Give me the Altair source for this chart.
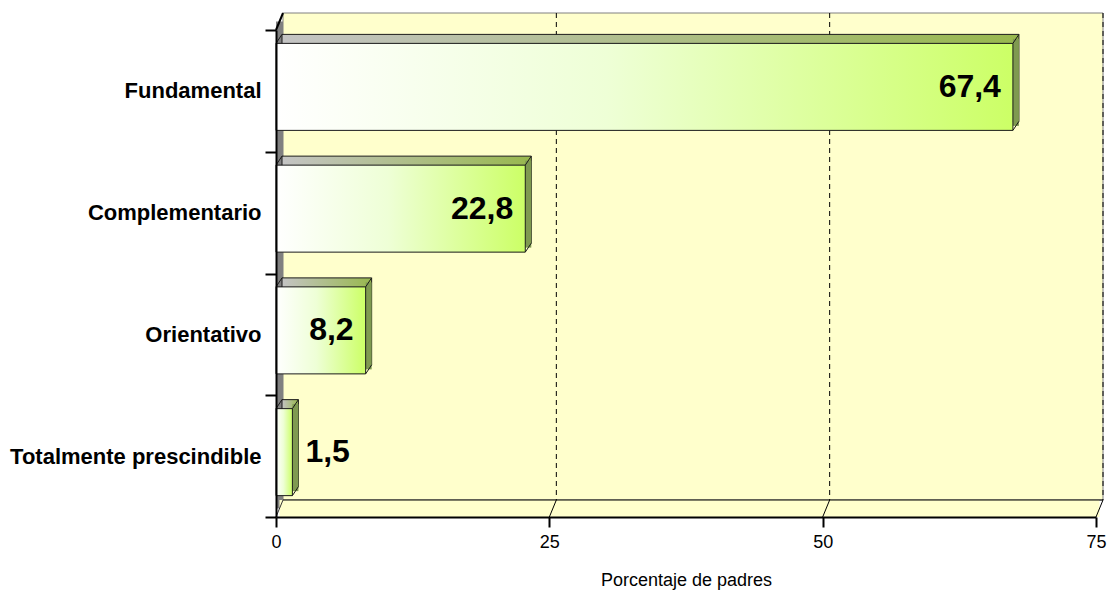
import altair as alt
import pandas as pd

# ---- data ----
categories = ["Fundamental", "Complementario", "Orientativo", "Totalmente prescindible"]
values = [67.4, 22.8, 8.2, 1.5]
x_ticks = [0, 25, 50, 75]
grid_vals = [25, 50, 75]
x_title = "Porcentaje de padres"

df = pd.DataFrame({"c": categories, "v": values})
gdf = pd.DataFrame({"v": grid_vals})
one = pd.DataFrame({"k": [0]})

# ---- layout / style ----
W, H = 820, 487
DX, DY = 7, 17          # wall depth
BH, BOFF = 87, -4       # bar front height and offset from band centre
BDX, BDY = 6, 9         # bar depth
FONT = "Liberation Sans"
WALL = "#FFFFCC"
EDGE = "#1a1a1a"

xscale = alt.Scale(domain=[0, 75], nice=False, zero=True)
xaxis = alt.Axis(values=x_ticks, title=x_title, grid=False, labelFont=FONT, labelFontSize=18,
                 labelColor="black", labelFlush=False, titleFont=FONT, titleFontSize=18,
                 titleFontWeight="normal", titleColor="black", tickSize=10, tickWidth=2,
                 tickColor="black", domainColor="black", domainWidth=2, labelPadding=6,
                 titlePadding=20, zindex=1)
yaxis = alt.Axis(title=None, tickBand="extent", labelFont=FONT, labelFontSize=22,
                 labelFontWeight="bold", labelColor="black", tickSize=11, tickWidth=2,
                 tickColor="black", domainColor="black", domainWidth=2, labelPadding=4,
                 labelLimit=400, zindex=1)
yscale = alt.Scale(domain=categories, paddingInner=0, paddingOuter=0)

X = lambda: alt.X("v:Q", scale=xscale, axis=xaxis)
Y = lambda: alt.Y("c:N", scale=yscale, axis=yaxis, sort=categories, bandPosition=0.5)

front_grad = alt.Gradient(gradient="linear", x1=0, x2=1, y1=0, y2=0, stops=[
    alt.GradientStop(offset=0, color="#FFFFFF"),
    alt.GradientStop(offset=0.45, color="#EEFFD6"),
    alt.GradientStop(offset=1, color="#CCFF66")])
top_grad = alt.Gradient(gradient="linear", x1=0, x2=1, y1=0, y2=0, stops=[
    alt.GradientStop(offset=0, color="#C4C4C4"),
    alt.GradientStop(offset=1, color="#98B84E")])
SIDE = "#7F9A50"

base1 = alt.Chart(one)

# back wall
back_wall = base1.mark_rect(fill=WALL, stroke="#808080", strokeWidth=1,
                            xOffset=DX, x2Offset=DX).encode(
    x=alt.datum(0, scale=xscale), x2=alt.datum(75), y=alt.value(-DY), y2=alt.value(H - DY))

grid_back = alt.Chart(gdf).mark_rule(color="black", strokeWidth=1, strokeDash=[5, 4],
                                     xOffset=DX).encode(
    x=X(), y=alt.value(-DY), y2=alt.value(H - DY))

left_wall = base1.mark_rect(fill="#808080", x2Offset=DX).encode(
    x=alt.datum(0), x2=alt.datum(0), y=alt.value(-DY / 2), y2=alt.value(H - DY / 2))

floor = base1.mark_rect(fill=WALL, xOffset=DX / 2, x2Offset=DX / 2).encode(
    x=alt.datum(0), x2=alt.datum(75), y=alt.value(H - DY), y2=alt.value(H))

floor_back = base1.mark_rule(color="black", strokeWidth=1, xOffset=DX, x2Offset=DX).encode(
    x=alt.datum(0), x2=alt.datum(75), y=alt.value(H - DY))

grid_floor = alt.Chart(gdf).mark_rule(color="black", strokeWidth=1, xOffset=DX).encode(
    x=X(), x2=alt.X2("v"), y=alt.value(H - DY), y2=alt.value(H))

wall_top = base1.mark_rule(color="black", strokeWidth=2, x2Offset=DX).encode(
    x=alt.datum(0), x2=alt.datum(0), y=alt.value(0), y2=alt.value(-DY))

wall_bottom = base1.mark_rule(color="#333333", strokeWidth=1, x2Offset=DX).encode(
    x=alt.datum(0), x2=alt.datum(0), y=alt.value(H), y2=alt.value(H - DY))

# bars
base = alt.Chart(df)
bar_back = base.mark_bar(height=BH, yOffset=BOFF - BDY, xOffset=BDX, x2Offset=BDX,
                         fill=top_grad, stroke=EDGE, strokeWidth=1).encode(
    x=X(), x2=alt.datum(0), y=Y())
bar_side = base.mark_bar(height=BH, yOffset=BOFF - BDY / 2, x2Offset=BDX, fill=SIDE).encode(
    x=X(), x2=alt.X2("v"), y=Y())
bar_front = base.mark_bar(height=BH, yOffset=BOFF, fill=front_grad, stroke=EDGE,
                          strokeWidth=1).encode(x=X(), x2=alt.datum(0), y=Y())

top_y = BOFF - BH / 2
bot_y = BOFF + BH / 2
edge_tl = base.mark_rule(color=EDGE, strokeWidth=1, x2Offset=BDX, yOffset=top_y,
                         y2Offset=top_y - BDY).encode(
    x=alt.datum(0), x2=alt.datum(0), y=Y(), y2=alt.Y2("c"))
edge_tr = base.mark_rule(color=EDGE, strokeWidth=1, x2Offset=BDX, yOffset=top_y,
                         y2Offset=top_y - BDY).encode(
    x=X(), x2=alt.X2("v"), y=Y(), y2=alt.Y2("c"))
edge_br = base.mark_rule(color=EDGE, strokeWidth=1, x2Offset=BDX, yOffset=bot_y,
                         y2Offset=bot_y - BDY).encode(
    x=X(), x2=alt.X2("v"), y=Y(), y2=alt.Y2("c"))

lbl = base.transform_calculate(lbl="replace(format(datum.v, '.1f'), '.', ',')")
text_in = lbl.transform_filter("datum.v >= 5").mark_text(
    align="right", baseline="middle", dx=-12, yOffset=BOFF, font=FONT, fontSize=32,
    fontWeight="bold", color="black").encode(x=X(), y=Y(), text="lbl:N")
text_out = lbl.transform_filter("datum.v < 5").mark_text(
    align="left", baseline="middle", dx=13, yOffset=BOFF, font=FONT, fontSize=32,
    fontWeight="bold", color="black").encode(x=X(), y=Y(), text="lbl:N")

chart = alt.layer(
    back_wall, grid_back, left_wall, floor, floor_back, grid_floor, wall_top, wall_bottom,
    bar_back, bar_side, bar_front, edge_tl, edge_tr, edge_br, text_in, text_out
).properties(
    width=W, height=H,
    padding={"left": 268, "top": 22, "right": 11, "bottom": 76},
    autosize=alt.AutoSizeParams(type="none"),
    background="white",
).configure_view(stroke=None)

chart.save("out.html", embed_options={"renderer": "svg", "actions": False})
